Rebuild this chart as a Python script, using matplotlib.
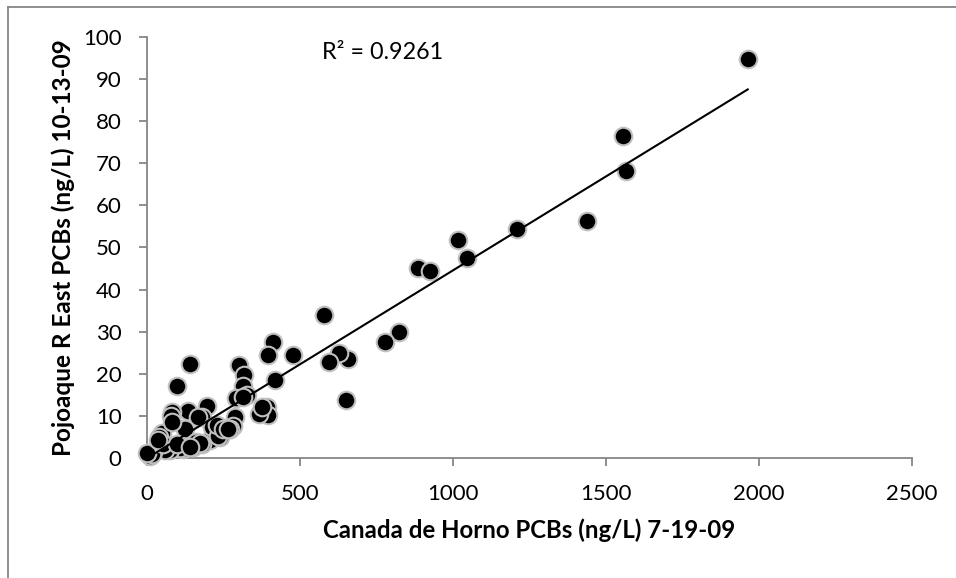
import matplotlib.pyplot as plt
import numpy as np
from matplotlib.lines import Line2D

# Canada de Horno (x) vs Pojoaque R East (y), PCBs ng/L
canada_x = [
    1964, 1555, 1565, 1438, 1209, 1018, 1046, 886, 925, 825,
    779, 659, 651, 629, 595, 578, 479, 414, 395, 419,
    392, 397, 367, 376, 300, 318, 315, 327, 292, 315,
    290, 141, 100, 196, 136, 82, 78, 180, 169, 125,
    50, 40, 223, 208, 262, 283, 272, 240, 212, 234,
    152, 120, 109, 76, 60, 22, 11, 16, 0, 54,
    98, 180, 229, 250, 160, 174, 141, 82, 38, 267,
]
pojoaque_y = [
    94.8, 76.5, 68.1, 56.3, 54.5, 51.7, 47.5, 45.1, 44.3, 30.0,
    27.6, 23.5, 13.8, 25.0, 22.9, 34.0, 24.4, 27.5, 24.4, 18.5,
    12.0, 10.2, 10.5, 12.0, 22.0, 19.8, 17.0, 15.0, 14.3, 14.5,
    9.7, 22.4, 17.2, 12.4, 11.2, 11.0, 9.9, 9.7, 9.8, 6.8,
    6.0, 5.0, 5.6, 4.3, 6.9, 7.7, 7.0, 5.0, 7.3, 5.2,
    2.6, 2.2, 2.3, 1.8, 1.9, 1.4, 0.5, 0.9, 1.2, 3.3,
    3.3, 3.3, 7.8, 6.8, 3.8, 3.5, 2.7, 8.6, 4.3, 7.0,
]
r2_label = "R\u00b2 = 0.9261"

x = np.array(canada_x, dtype=float)
y = np.array(pojoaque_y, dtype=float)
slope, intercept = np.polyfit(x, y, 1)

plt.rcParams["font.family"] = ["Lato", "DejaVu Sans"]

fig = plt.figure(figsize=(9.56, 5.78), dpi=100)
ax = fig.add_axes([0.1535, 0.2076, 0.8002, 0.7284])

ax.scatter(x, y, s=160, c="black", edgecolors="#c0c0c0", linewidths=1.5,
           zorder=3, clip_on=False)

xfit = np.array([x.min(), x.max()])
ax.plot(xfit, slope * xfit + intercept, color="black", lw=1.5, zorder=4)

ax.set_xlim(0, 2500)
ax.set_ylim(0, 100)
ax.set_xticks(np.arange(0, 2501, 500))
ax.set_yticks(np.arange(0, 101, 10))

for side in ["top", "right"]:
    ax.spines[side].set_visible(False)
for side in ["left", "bottom"]:
    ax.spines[side].set_color("#868686")
    ax.spines[side].set_linewidth(1.3)
ax.tick_params(axis="both", direction="out", length=6, width=1.3, color="#868686",
               labelsize=16, labelcolor="black")
ax.tick_params(axis="y", pad=12)
ax.tick_params(axis="x", pad=13)

ax.set_xlabel("Canada de Horno PCBs (ng/L) 7-19-09", fontsize=17.3, fontweight="bold", labelpad=10)
ax.set_ylabel("Pojoaque R East PCBs (ng/L) 10-13-09", fontsize=17.5, fontweight="bold", labelpad=6)

ax.text(572, 96.4, r2_label, fontsize=16.8, va="center", ha="left")

# outer chart-area frame (only left and top edges visible)
fig.add_artist(Line2D([8 / 956, 8 / 956], [0, 1 - 7 / 578], transform=fig.transFigure,
                      color="#868686", lw=1.3))
fig.add_artist(Line2D([8 / 956, 1], [1 - 7 / 578, 1 - 7 / 578], transform=fig.transFigure,
                      color="#868686", lw=1.3))

fig.savefig("out.png", dpi=100)
